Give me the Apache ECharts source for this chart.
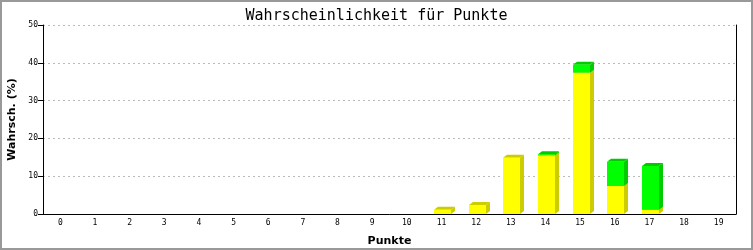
<!DOCTYPE html>
<html><head><meta charset="utf-8">
<script src="https://cdn.jsdelivr.net/npm/echarts@6/dist/echarts.min.js"></script>
<style>html,body{margin:0;padding:0;background:#fff}#c{width:753px;height:250px}</style>
</head><body><div id="c"></div>
<script>
const categories = ['0','1','2','3','4','5','6','7','8','9','10','11','12','13','14','15','16','17','18','19'];
const yellowValues = [0,0,0,0,0,0,0,0,0,0,0,1.1,2.4,14.9,15.5,37.4,7.4,1.1,0,0];
const greenValues  = [0,0,0,0,0,0,0,0,0,0,0,0,0,0,0.3,2.1,6.4,11.6,0,0];
const yTicks = [0,10,20,30,40,50];

const chart = echarts.init(document.getElementById('c'));
const DX = 4, DY = 3, HALF = 8.5;

function makeRender(front, side, top) {
  return function (params, api) {
    const x = api.value(0), lo = api.value(1), hi = api.value(2);
    if (hi - lo <= 0) return null;
    const pLo = api.coord([x, lo]);
    const pHi = api.coord([x, hi]);
    const cx = pLo[0] + 1;
    const x0 = Math.round(cx - HALF), x1 = Math.round(cx + HALF);
    const yb = pLo[1], yt = pHi[1];
    return {
      type: 'group',
      children: [
        { type: 'polygon', shape: { points: [[x1, yb], [x1 + DX, yb - DY], [x1 + DX, yt - DY], [x1, yt]] }, style: { fill: side } },
        { type: 'polygon', shape: { points: [[x0, yt], [x0 + DX, yt - DY], [x1 + DX, yt - DY], [x1, yt]] }, style: { fill: top } },
        { type: 'rect', shape: { x: x0, y: yt, width: x1 - x0, height: yb - yt }, style: { fill: front } }
      ]
    };
  };
}

const yellowData = categories.map((c, i) => [i, 0, yellowValues[i]]);
const greenData = categories.map((c, i) => [i, yellowValues[i], yellowValues[i] + greenValues[i]]);

chart.setOption({
  animation: false,
  title: {
    text: 'Wahrscheinlichkeit für Punkte', left: 'center', top: 4,
    textStyle: { fontFamily: 'DejaVu Sans Mono', fontSize: 15, fontWeight: 'normal', color: '#000' }
  },
  graphic: [{ type: 'rect', shape: { x: 1, y: 1, width: 751, height: 248 }, style: { fill: 'none', stroke: '#999', lineWidth: 2 }, z: 100 }],
  grid: { left: 43, right: 17, top: 25, bottom: 36, containLabel: false, outerBoundsMode: 'none' },
  xAxis: {
    type: 'category', data: categories, boundaryGap: true,
    name: 'Punkte', nameLocation: 'middle', nameGap: 22,
    nameTextStyle: { fontFamily: 'DejaVu Sans', fontSize: 11, fontWeight: 'bold', color: '#000' },
    axisLine: { lineStyle: { color: '#000', width: 1 } },
    axisTick: { show: false },
    axisLabel: { fontFamily: 'DejaVu Sans Mono', fontSize: 8, color: '#000', margin: 5 }
  },
  yAxis: [{
    type: 'value', min: 0, max: 50, interval: 10,
    name: 'Wahrsch. (%)', nameLocation: 'middle', nameGap: 25,
    nameTextStyle: { fontFamily: 'DejaVu Sans', fontSize: 11, fontWeight: 'bold', color: '#000' },
    axisLine: { show: true, lineStyle: { color: '#000', width: 1 } },
    axisTick: { show: true, length: 5, lineStyle: { color: '#000' } },
    axisLabel: { fontFamily: 'DejaVu Sans Mono', fontSize: 8, color: '#000', margin: 5,
      formatter: v => yTicks.includes(v) ? String(v) : '' },
    splitLine: { show: true, lineStyle: { color: '#bbb', type: [2, 3], width: 1 } }
  }, {
    type: 'value', min: 0, max: 50, interval: 10, position: 'right',
    axisLine: { show: true, lineStyle: { color: '#000', width: 1 } },
    axisTick: { show: false }, axisLabel: { show: false }, splitLine: { show: false }
  }],
  series: [
    { type: 'custom', name: 'gelb', renderItem: makeRender('#ffff00', '#cccc00', '#cccc00'), data: yellowData, encode: { x: 0, y: [1, 2] }, z: 2 },
    { type: 'custom', name: 'grün', renderItem: makeRender('#00ff00', '#00cc00', '#00cc00'), data: greenData, encode: { x: 0, y: [1, 2] }, z: 3 }
  ]
});
</script></body></html>
